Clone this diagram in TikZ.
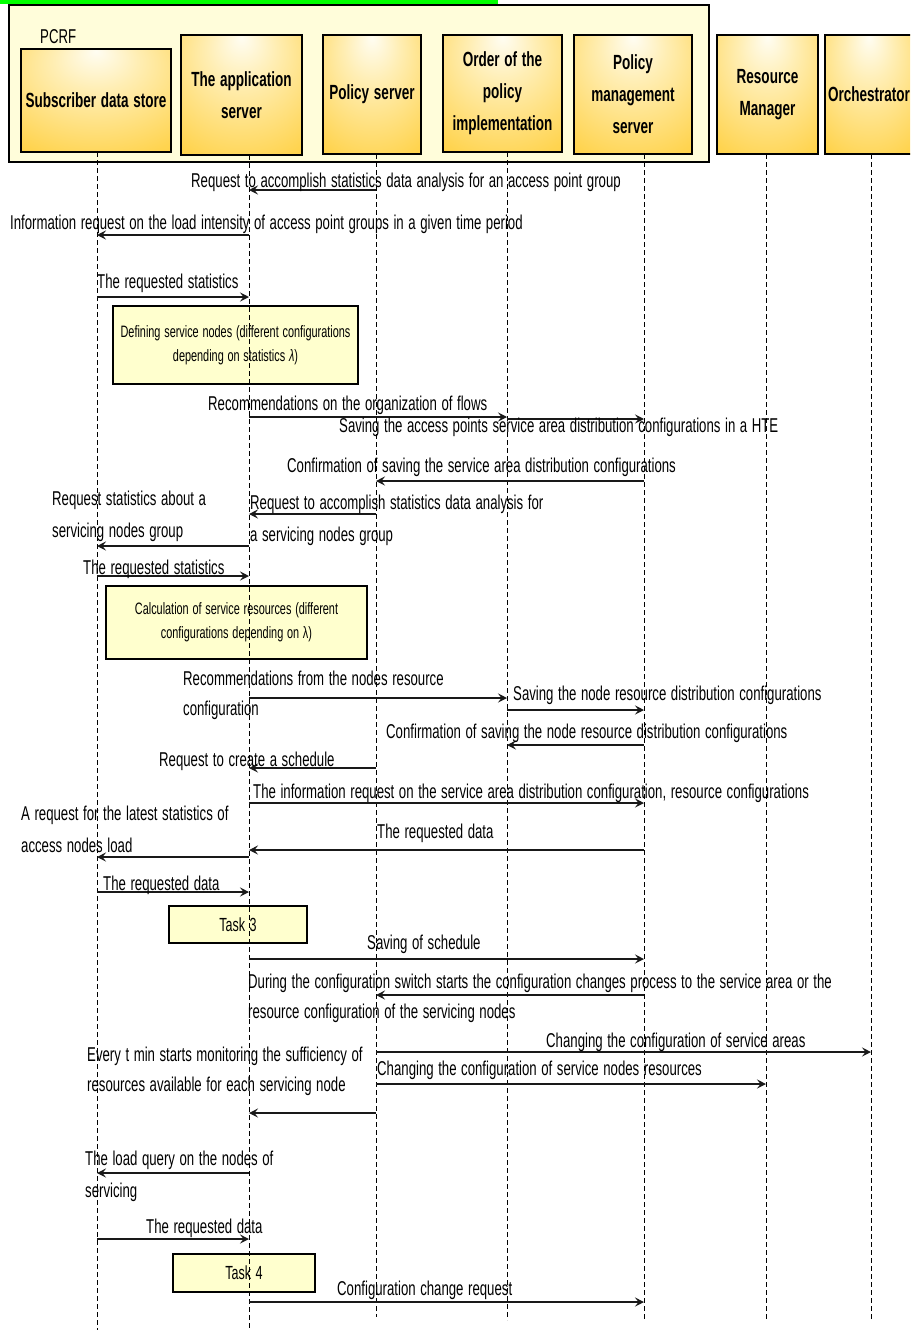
\documentclass[tikz,border=0pt]{standalone}
\usepackage{fontspec}
\setmainfont{Liberation Sans}[FakeStretch=0.66, WordSpace=1.25]
\usetikzlibrary{arrows.meta}
\definecolor{pcrfbg}{RGB}{255,253,218}
\definecolor{notebg}{RGB}{255,255,206}
\definecolor{glowA}{RGB}{255,253,242}
\definecolor{glowB}{RGB}{255,238,180}
\definecolor{glowC}{RGB}{255,212,80}
\definecolor{glowD}{RGB}{255,192,0}
\definecolor{signal}{RGB}{0,255,0}
\pgfdeclareradialshading{hdrglow}{\pgfpoint{0bp}{24bp}}{color(0bp)=(glowA); color(14bp)=(glowB); color(40bp)=(glowC); color(72bp)=(glowD)}
\tikzset{
  hdr/.style={draw=black, line width=2pt, shade, shading=hdrglow, inner sep=0pt, align=center,
    font=\fontsize{20.5}{32}\selectfont\bfseries, minimum height=119pt},
  life/.style={draw=black, line width=0.9pt, dash pattern=on 5pt off 3pt},
  msg/.style={draw=black!90, line width=1.2pt, -{Stealth[length=9pt,width=9pt,inset=3.5pt]}},
  lbl/.style={inner sep=0pt, anchor=base west, font=\fontsize{20}{30}\selectfont},
  note/.style={draw=black, line width=1.6pt, fill=notebg, inner sep=0pt, align=center,
    font=\fontsize{16.5}{24}\selectfont},
}
\begin{document}
\begin{tikzpicture}[x=1pt,y=-1pt]
\useasboundingbox (0,0) rectangle (910,1330);
\clip (0,0) rectangle (910,1330);

% top marker bar and PCRF frame
\fill[signal] (0,0) rectangle (498,4);
\node[draw=black, line width=2pt, fill=pcrfbg, minimum width=700pt, minimum height=157pt, inner sep=0pt] (pcrf) at (359,83.5) {};
\node[lbl, font=\fontsize{20}{24}\selectfont] (pcrflbl) at (40,44) {PCRF};

% participants
\node[hdr, minimum width=150pt, minimum height=103pt] (hS) at (96,100.5) {Subscriber data store};
\node[hdr, minimum width=121pt, minimum height=120pt] (hA) at (241.5,95) {The application\\server};
\node[hdr, minimum width=98pt] (hP) at (372,94.5) {Policy server};
\node[hdr, minimum width=119pt, minimum height=117pt] (hO) at (502.5,93.5) {Order of the\\policy\\implementation};
\node[hdr, minimum width=118pt] (hM) at (633,94.5) {Policy\\management\\server};
\node[hdr, minimum width=101pt] (hR) at (767.5,94.5) {Resource\\Manager};
\node[hdr, minimum width=88pt] (hC) at (869,94.5) {Orchestrator};

% lifelines
\coordinate (S) at (97,152);  \coordinate (Sb) at (97,1330);
\coordinate (A) at (249,155); \coordinate (Ab) at (249,1330);
\coordinate (P) at (376,154); \coordinate (Pb) at (376,1317);
\coordinate (O) at (507,152); \coordinate (Ob) at (507,1320);
\coordinate (M) at (644,154); \coordinate (Mb) at (644,1320);
\coordinate (R) at (766,154); \coordinate (Rb) at (766,1320);
\coordinate (C) at (871,154); \coordinate (Cb) at (871,1320);

% activity notes
\node[note, minimum width=245pt, minimum height=78pt] (n1) at (235.5,345) {Defining service nodes (different configurations\\depending on statistics \textit{λ})};
\node[note, minimum width=261pt, minimum height=73pt] (n2) at (236.5,622.5) {Calculation of service resources (different\\configurations depending on λ)};
\node[note, minimum width=138pt, minimum height=37pt, font=\fontsize{19}{24}\selectfont] (task3) at (238,924.5) {Task 3};
\node[note, minimum width=142pt, minimum height=38pt, font=\fontsize{19}{24}\selectfont] (task4) at (244,1273) {Task 4};

\foreach \l in {S,A,P,O,M,R,C} \draw[life] (\l) -- (\l b);

% message rows
\coordinate (r1) at (0,190);   \coordinate (r2) at (0,235);   \coordinate (r3) at (0,297);
\coordinate (r5) at (0,417);   \coordinate (r6) at (0,419);   \coordinate (r7) at (0,481);
\coordinate (r9) at (0,514);   \coordinate (r8) at (0,546);   \coordinate (r10) at (0,576);
\coordinate (r12) at (0,698);  \coordinate (r13) at (0,710);  \coordinate (r14) at (0,745);
\coordinate (r15) at (0,768);  \coordinate (r16) at (0,803);  \coordinate (r18) at (0,850);
\coordinate (r17) at (0,857);  \coordinate (r19) at (0,892);  \coordinate (r21) at (0,959);
\coordinate (r22) at (0,995);  \coordinate (r23) at (0,1052); \coordinate (r24) at (0,1084);
\coordinate (r25) at (0,1113); \coordinate (r26) at (0,1173); \coordinate (r27) at (0,1239);
\coordinate (r29) at (0,1302);

\draw[msg] (P |- r1) -- (A |- r1);
\draw[msg] (A |- r2) -- (S |- r2);
\draw[msg] (S |- r3) -- (A |- r3);
\draw[msg] (A |- r5) -- (O |- r5);
\draw[msg] (O |- r6) -- (M |- r6);
\draw[msg] (M |- r7) -- (P |- r7);
\draw[msg] (P |- r9) -- (A |- r9);
\draw[msg] (A |- r8) -- (S |- r8);
\draw[msg] (S |- r10) -- (A |- r10);
\draw[msg] (A |- r12) -- (O |- r12);
\draw[msg] (O |- r13) -- (M |- r13);
\draw[msg] (M |- r14) -- (O |- r14);
\draw[msg] (P |- r15) -- (A |- r15);
\draw[msg] (A |- r16) -- (M |- r16);
\draw[msg] (M |- r18) -- (A |- r18);
\draw[msg] (A |- r17) -- (S |- r17);
\draw[msg] (S |- r19) -- (A |- r19);
\draw[msg] (A |- r21) -- (M |- r21);
\draw[msg] (M |- r22) -- (P |- r22);
\draw[msg] (P |- r23) -- (C |- r23);
\draw[msg] (P |- r24) -- (R |- r24);
\draw[msg] (P |- r25) -- (A |- r25);
\draw[msg] (A |- r26) -- (S |- r26);
\draw[msg] (S |- r27) -- (A |- r27);
\draw[msg] (A |- r29) -- (M |- r29);

% message labels
\node[lbl] (t1) at (191,187) {Request to accomplish statistics data analysis for an access point group};
\node[lbl] (t2) at (10,229) {Information request on the load intensity of access point groups in a given time period};
\node[lbl] (t3) at (97,288) {The requested statistics};
\node[lbl] (t5) at (208,410) {Recommendations on the organization of flows};
\node[lbl] (t6) at (339,432) {Saving the access points service area distribution configurations in a HTE};
\node[lbl] (t7) at (287,472) {Confirmation of saving the service area distribution configurations};
\node[lbl] (t8a) at (52,505) {Request statistics about a};
\node[lbl] (t8b) at (52,537) {servicing nodes group};
\node[lbl] (t9a) at (250,509) {Request to accomplish statistics data analysis for};
\node[lbl] (t9b) at (250,541) {a servicing nodes group};
\node[lbl] (t10) at (83,574) {The requested statistics};
\node[lbl] (t12a) at (183,685) {Recommendations from the nodes resource};
\node[lbl] (t12b) at (183,715) {configuration};
\node[lbl] (t13) at (513,700) {Saving the node resource distribution configurations};
\node[lbl] (t14) at (386,738) {Confirmation of saving the node resource distribution configurations};
\node[lbl] (t15) at (159,766) {Request to create a schedule};
\node[lbl] (t16) at (253,798) {The information request on the service area distribution configuration, resource configurations};
\node[lbl] (t17a) at (21,820) {A request for the latest statistics of};
\node[lbl] (t17b) at (21,852) {access nodes load};
\node[lbl] (t18) at (377,838) {The requested data};
\node[lbl] (t19) at (103,890) {The requested data};
\node[lbl] (t21) at (367,949) {Saving of schedule};
\node[lbl] (t22a) at (248,988) {During the configuration switch starts the configuration changes process to the service area or the};
\node[lbl] (t22b) at (248,1018) {resource configuration of the servicing nodes};
\node[lbl] (t23) at (546,1047) {Changing the configuration of service areas};
\node[lbl] (t24) at (377,1075) {Changing the configuration of service nodes resources};
\node[lbl] (t25a) at (87,1061) {Every t min starts monitoring the sufficiency of};
\node[lbl] (t25b) at (87,1091) {resources available for each servicing node};
\node[lbl] (t26a) at (85,1165) {The load query on the nodes of};
\node[lbl] (t26b) at (85,1197) {servicing};
\node[lbl] (t27) at (146,1233) {The requested data};
\node[lbl] (t29) at (337,1295) {Configuration change request};
\end{tikzpicture}
\end{document}
